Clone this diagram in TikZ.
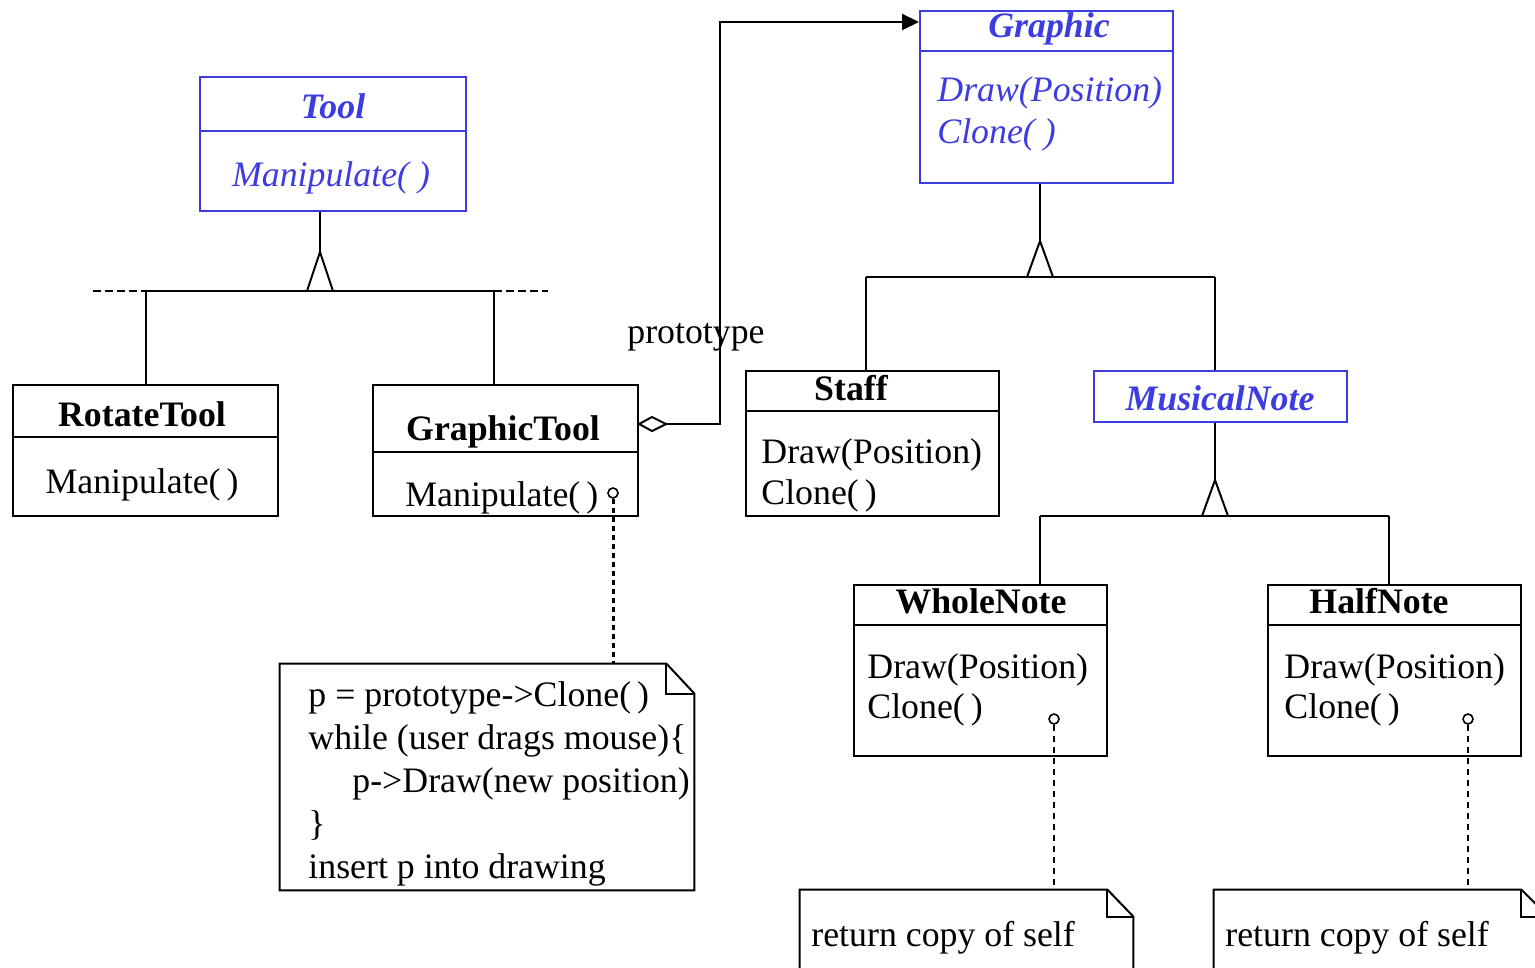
\documentclass[tikz,border=0pt]{standalone}
\usepackage{fontspec}
\setmainfont{Liberation Serif}
\usetikzlibrary{fit,arrows.meta}
\definecolor{umlblue}{RGB}{60,60,225}
\newcommand{\umlfont}{\fontsize{17.9}{21}\selectfont}
\begin{document}
\begin{tikzpicture}[x=0.5pt,y=-0.5pt,
  every node/.style={font=\umlfont},
  box/.style={draw, line width=1pt, inner sep=0pt},
  abox/.style={box, draw=umlblue},
  ttl/.style={anchor=base, inner sep=0pt, font=\umlfont\bfseries},
  attl/.style={anchor=base, inner sep=0pt, text=umlblue, font=\umlfont\bfseries\itshape},
  op/.style={anchor=base west, inner sep=0pt},
  aop/.style={anchor=base west, inner sep=0pt, text=umlblue, font=\umlfont\itshape},
  ln/.style={line width=1pt},
  aln/.style={line width=1pt, draw=umlblue},
  ext/.style={line width=1pt, dash pattern=on 4pt off 2pt},
  depthick/.style={line width=1.5pt, dash pattern=on 2.5pt off 2pt},
  depthin/.style={line width=1pt, dash pattern=on 3pt off 2.5pt},
  dot/.style={circle, draw, line width=0.8pt, inner sep=0pt, minimum size=5pt},
  notebox/.style={inner sep=0pt},
  notetxt/.style={anchor=base west, inner sep=0pt}
]
\useasboundingbox (0,0) rectangle (1535,968);
\clip (0,0) rectangle (1535,968);

% ---------- classes ----------
\node[abox, fit={(200,77) (466,211)}] (tool) {};
\draw[aln] (tool.west |- 0,131) -- (tool.east |- 0,131);
\node[attl] (tooln) at (333,119) {Tool};
\node[anchor=base, inner sep=0pt, text=umlblue, font=\umlfont\itshape] (toolop) at (331,187) {Manipulate( )};

\node[abox, fit={(920,11) (1173,183)}] (graphic) {};
\draw[aln] (graphic.west |- 0,51) -- (graphic.east |- 0,51);
\node[attl] (graphicn) at (1049,38) {Graphic};
\node[aop] (gop1) at (937,102) {Draw(Position)};
\node[aop] (gop2) at (937,144) {Clone( )};

\node[box, fit={(13,385) (278,516)}] (rot) {};
\draw[ln] (rot.west |- 0,437) -- (rot.east |- 0,437);
\node[ttl] (rotn) at (142,426) {RotateTool};
\node[anchor=base, inner sep=0pt] (rotop) at (142,493) {Manipulate(\,)};

\node[box, fit={(373,385) (638,516)}] (gtool) {};
\draw[ln] (gtool.west |- 0,452) -- (gtool.east |- 0,452);
\node[ttl] (gtooln) at (503,440) {GraphicTool};
\node[op] (gtoolop) at (405,506) {Manipulate(\,)};

\node[box, fit={(746,371) (999,516)}] (staff) {};
\draw[ln] (staff.west |- 0,411) -- (staff.east |- 0,411);
\node[ttl] (staffn) at (851,400) {Staff};
\node[op] (sop1) at (761,463) {Draw(Position)};
\node[op] (sop2) at (761,504) {Clone(\,)};

\node[abox, fit={(1094,371) (1347,422)}] (musical) {};
\node[attl] (musicaln) at (1220,410) {MusicalNote};

\node[box, fit={(854,585) (1107,756)}] (whole) {};
\draw[ln] (whole.west |- 0,625) -- (whole.east |- 0,625);
\node[ttl] (wholen) at (981,613) {WholeNote};
\node[op] (wop1) at (867,678) {Draw(Position)};
\node[op] (wop2) at (867,718) {Clone(\,)};

\node[box, fit={(1268,585) (1521,756)}] (half) {};
\draw[ln] (half.west |- 0,625) -- (half.east |- 0,625);
\node[ttl] (halfn) at (1379,613) {HalfNote};
\node[op] (hop1) at (1284,678) {Draw(Position)};
\node[op] (hop2) at (1284,718) {Clone(\,)};

% ---------- inheritance: Tool ----------
\coordinate (tA) at (320,252);
\coordinate (tbL) at (146,291);
\coordinate (tbR) at (494,291);
\draw[ln] (tool.south -| tA) -- (tA);
\draw[ln] (307,291) -- (tA) -- (333,291);
\draw[ln] (tbL) -- (tbR);
\draw[ext] (93,291) -- (tbL);
\draw[ext] (tbR) -- (548,291);
\draw[ln] (tbL) -- (rot.north -| tbL);
\draw[ln] (tbR) -- (gtool.north -| tbR);

% ---------- inheritance: Graphic ----------
\coordinate (gA) at (1040,241);
\coordinate (gbL) at (866,277);
\coordinate (gbR) at (1215,277);
\draw[ln] (graphic.south -| gA) -- (gA);
\draw[ln] (1027,277) -- (gA) -- (1053,277);
\draw[ln] (gbL) -- (gbR);
\draw[ln] (gbL) -- (staff.north -| gbL);
\draw[ln] (gbR) -- (musical.north -| gbR);

% ---------- inheritance: MusicalNote ----------
\coordinate (mA) at (1215,480);
\coordinate (mbL) at (1040,516);
\coordinate (mbR) at (1389,516);
\draw[ln] (musical.south -| mA) -- (mA);
\draw[ln] (1202,516) -- (mA) -- (1228,516);
\draw[ln] (mbL) -- (mbR);
\draw[ln] (mbL) -- (whole.north -| mbL);
\draw[ln] (mbR) -- (half.north -| mbR);

% ---------- aggregation ----------
\coordinate (aggL) at (gtool.east |- 0,424);
\coordinate (aggR) at (666,424);
\draw[ln, fill=white] (aggL) -- (652,417) -- (aggR) -- (652,431) -- cycle;
\draw[ln, -{Triangle[length=8.5pt,width=8pt]}] (aggR) -- (720,424) -- (720,22) -- (graphic.west |- 0,22);
\node[anchor=base, inner sep=0pt] (protolbl) at (696,343) {prototype};

% ---------- notes ----------
\node[notebox, fit={(280,664) (694,890)}] (note1) {};
\draw[ln, fill=white] (note1.north west) -- ([xshift=-14pt]note1.north east) -- ([yshift=-15pt]note1.north east) -- (note1.south east) -- (note1.south west) -- cycle;
\draw[ln] ([xshift=-14pt]note1.north east) -- ([xshift=-14pt,yshift=-15pt]note1.north east) -- ([yshift=-15pt]note1.north east);
\node[notetxt] (n1a) at (308,706) {p = prototype->Clone(\,)};
\node[notetxt] (n1b) at (308,749) {while (user drags mouse)\{};
\node[notetxt] (n1c) at (352,792) {p->Draw(new position)};
\node[notetxt] (n1d) at (308,835) {\}};
\node[notetxt] (n1e) at (308,878) {insert p into drawing};

\node[notebox, fit={(800,890) (1133,1000)}] (note2) {};
\draw[ln, fill=white] (note2.north west) -- ([xshift=-13pt]note2.north east) -- ([yshift=-13.5pt]note2.north east) -- (note2.south east) -- (note2.south west) -- cycle;
\draw[ln] ([xshift=-13pt]note2.north east) -- ([xshift=-13pt,yshift=-13.5pt]note2.north east) -- ([yshift=-13.5pt]note2.north east);
\node[notetxt] (n2) at (811,946) {return copy of self};

\node[notebox, fit={(1214,890) (1548,1000)}] (note3) {};
\draw[ln, fill=white] (note3.north west) -- ([xshift=-13.5pt]note3.north east) -- ([yshift=-13.5pt]note3.north east) -- (note3.south east) -- (note3.south west) -- cycle;
\draw[ln] ([xshift=-13.5pt]note3.north east) -- ([xshift=-13.5pt,yshift=-13.5pt]note3.north east) -- ([yshift=-13.5pt]note3.north east);
\node[notetxt] (n3) at (1225,946) {return copy of self};

% ---------- dependency links ----------
\node[dot] (dep1) at (613,493) {};
\draw[depthick] (dep1.south) -- (note1.north -| dep1.south);
\node[dot] (dep2) at (1054,719) {};
\draw[depthin] (dep2.south) -- (note2.north -| dep2.south);
\node[dot] (dep3) at (1468,719) {};
\draw[depthin] (dep3.south) -- (note3.north -| dep3.south);
\end{tikzpicture}
\end{document}
